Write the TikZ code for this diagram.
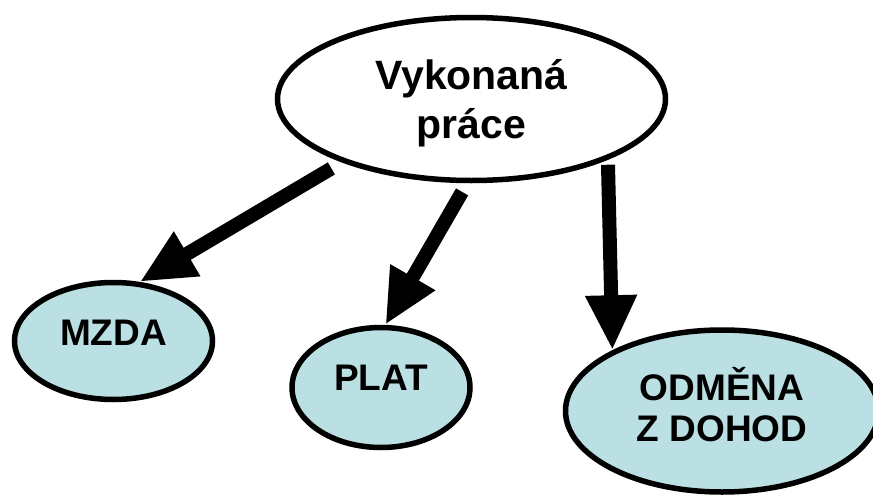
\documentclass[tikz,border=0pt]{standalone}
\usepackage{fontspec}
\setmainfont{Liberation Sans}
\usetikzlibrary{arrows.meta,shapes.geometric}
\definecolor{bubblefill}{RGB}{187,224,227}
\begin{document}
\begin{tikzpicture}[x=1pt,y=-1pt,
  bubble/.style={ellipse, draw=black, line width=5.5pt, inner sep=0pt,
    font=\fontsize{37}{43}\selectfont\bfseries},
  leaf/.style={bubble, fill=bubblefill},
  fat arrow/.style={draw=black, line width=14pt, line cap=butt,
    -{Triangle[width=48pt,length=55pt]}}]
\useasboundingbox (0,0) rectangle (873,498);

% root bubble
\node[bubble, fill=white, minimum width=388pt, minimum height=163pt,
      text height=10pt, text depth=29pt,
      font=\fontsize{41}{49}\selectfont\bfseries] (root) at (471.5,99)
  {\begin{tabular}[t]{@{}c@{}}Vykonaná\\práce\end{tabular}};

% the three kinds of pay
\node[leaf, minimum width=198pt, minimum height=117pt,
      text height=20pt, text depth=12pt] (mzda) at (113.5,341) {MZDA};
\node[leaf, minimum width=178pt, minimum height=120pt,
      text height=20pt, text depth=15pt] (plat) at (381,387.5) {PLAT};
\node[leaf, minimum width=313pt, minimum height=162pt,
      text height=10pt, text depth=32pt,
      font=\fontsize{37}{41}\selectfont\bfseries] (odmena) at (722,411)
  {\begin{tabular}[t]{@{}c@{}}ODMĚNA\\Z DOHOD\end{tabular}};

% arrows
\draw[fat arrow, shorten <=12pt] (root.206.5) -- (mzda.66);
\draw[fat arrow, shorten <=10pt] (root.267.6) -- (plat.86.5);
\draw[fat arrow, shorten <=5pt]  (root.336)   -- (odmena.151.8);
\end{tikzpicture}
\end{document}
